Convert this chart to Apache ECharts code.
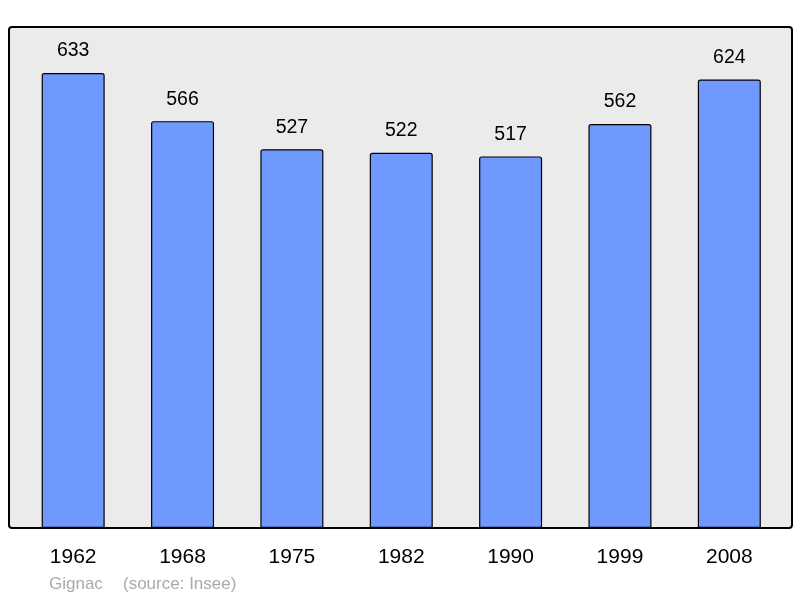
<!DOCTYPE html>
<html>
<head>
<meta charset="utf-8">
<script src="https://cdn.jsdelivr.net/npm/echarts@6/dist/echarts.min.js"></script>
<style>
  html, body { margin: 0; padding: 0; background: #fff; }
  #main { width: 800px; height: 598px; }
</style>
</head>
<body>
<div id="main"></div>
<script>
// population by census year
var years = ['1962', '1968', '1975', '1982', '1990', '1999', '2008'];
var population = [633, 566, 527, 522, 517, 562, 624];

var chart = echarts.init(document.getElementById('main'));

var option = {
    animation: false,
    textStyle: { fontFamily: 'Liberation Sans, Arial, sans-serif' },
    graphic: [
        {
            type: 'rect',
            z: -1,
            shape: { x: 9, y: 27, width: 783, height: 501, r: 3 },
            style: { fill: '#ebebeb', stroke: '#000', lineWidth: 2 }
        },
        {
            type: 'text',
            left: 49,
            top: 576,
            style: { text: 'Gignac', fill: '#aaaaaa', font: '17px "Liberation Sans", Arial, sans-serif' }
        },
        {
            type: 'text',
            left: 123,
            top: 576,
            style: { text: '(source: Insee)', fill: '#aaaaaa', font: '17px "Liberation Sans", Arial, sans-serif' }
        }
    ],
    grid: {
        left: 18.5,
        right: 16,
        top: 27,
        bottom: 70,
        containLabel: false
    },
    xAxis: {
        type: 'category',
        data: years,
        axisLine: { show: false },
        axisTick: { show: false },
        axisLabel: { color: '#000', fontSize: 21, margin: 19 }
    },
    yAxis: {
        type: 'value',
        min: 0,
        max: 697,
        show: false,
        splitLine: { show: false }
    },
    series: [
        {
            type: 'bar',
            data: population,
            barWidth: 63,
            itemStyle: {
                color: '#7099ff',
                borderColor: '#000',
                borderWidth: 1.2,
                borderRadius: [2, 2, 0, 0]
            },
            label: {
                show: true,
                position: 'top',
                distance: 12,
                color: '#000',
                fontSize: 19.5
            }
        }
    ]
};

chart.setOption(option);
</script>
</body>
</html>
